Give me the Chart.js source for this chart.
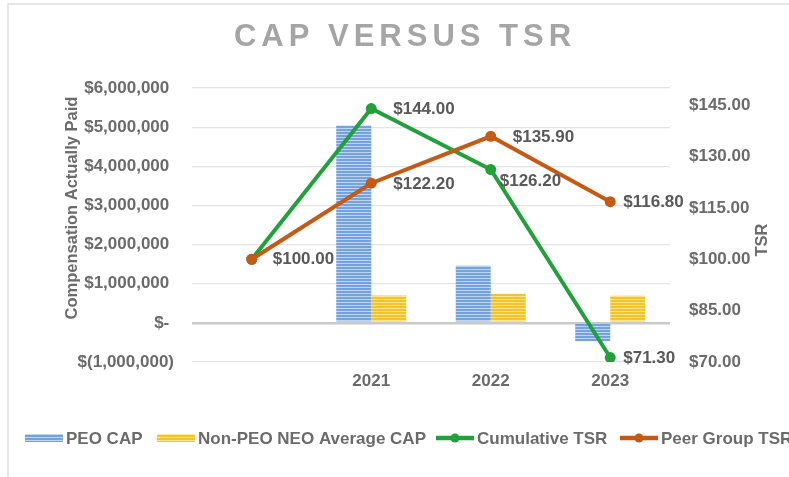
<!DOCTYPE html>
<html>
<head>
<meta charset="utf-8">
<script src="https://cdn.jsdelivr.net/npm/chart.js@4.4.0/dist/chart.umd.min.js"></script>
<style>
  html, body { margin: 0; padding: 0; background: #fff; }
  canvas { display: block; }
</style>
</head>
<body>
<canvas id="chart" width="789" height="477"></canvas>
<script>
// values
const years = ['', '2021', '2022', '2023'];
const peoCap = [null, 5040000, 1460000, -470000];
const neoAvgCap = [null, 700000, 745000, 690000];
const cumulativeTsr = [100.0, 144.0, 126.2, 71.3];
const peerGroupTsr = [100.0, 122.2, 135.9, 116.8];
const capTicks = [-1000000, 0, 1000000, 2000000, 3000000, 4000000, 5000000, 6000000];
const tsrTicks = [70, 85, 100, 115, 130, 145];

const FONT = "'Liberation Sans', Arial, sans-serif";
const TICK_COLOR = '#6b6b6b';
const LABEL_COLOR = '#595959';

Chart.defaults.font.family = FONT;
Chart.defaults.font.weight = 'bold';
Chart.defaults.font.size = 17;

// horizontal striped fill like the excel bars
function stripes(base, light) {
  const c = document.createElement('canvas');
  c.width = 4; c.height = 3;
  const g = c.getContext('2d');
  g.fillStyle = base; g.fillRect(0, 0, 4, 2);
  g.fillStyle = light; g.fillRect(0, 2, 4, 1);
  return g.createPattern(c, 'repeat');
}
const blueFill = stripes('#74a2e0', '#c0d5f2');
const yellowFill = stripes('#f6c22c', '#fde58c');

function capLabel(v) {
  if (v === 0) return '$- ';
  if (v < 0) return '$(' + Math.abs(v).toLocaleString('en-US') + ')';
  return '$' + v.toLocaleString('en-US') + ' ';
}
function tsrLabel(v) {
  return '$' + v.toFixed(2);
}

const framePlugin = {
  id: 'frame',
  beforeDraw(chart) {
    const ctx = chart.ctx;
    ctx.save();
    ctx.fillStyle = '#fff';
    ctx.fillRect(0, 0, chart.width, chart.height);
    ctx.strokeStyle = '#dedede';
    ctx.lineWidth = 1.5;
    ctx.beginPath();
    ctx.moveTo(8, chart.height);
    ctx.lineTo(8, 4);
    ctx.lineTo(chart.width, 4);
    ctx.stroke();
    ctx.restore();
  }
};

const pointLabelPlugin = {
  id: 'pointLabels',
  afterDatasetsDraw(chart) {
    const ctx = chart.ctx;
    ctx.save();
    ctx.font = 'bold 17px ' + FONT;
    ctx.fillStyle = LABEL_COLOR;
    ctx.textAlign = 'left';
    ctx.textBaseline = 'middle';
    chart.data.datasets.forEach((ds, i) => {
      if (!ds.labelOffsets) return;
      const meta = chart.getDatasetMeta(i);
      meta.data.forEach((pt, j) => {
        const off = ds.labelOffsets[j];
        if (!off) return;
        ctx.fillText(tsrLabel(ds.data[j]), pt.x + off[0], pt.y + off[1]);
      });
    });
    ctx.restore();
  }
};

const textPlugin = {
  id: 'texts',
  afterDraw(chart) {
    const ctx = chart.ctx;
    ctx.save();
    // title
    ctx.font = 'bold 31px ' + FONT;
    ctx.letterSpacing = '5px';
    ctx.fillStyle = '#a5a5a5';
    ctx.textAlign = 'center';
    ctx.textBaseline = 'middle';
    ctx.fillText('CAP VERSUS TSR', 405, 37);
    ctx.letterSpacing = '0px';

    // axis titles
    ctx.font = 'bold 16.5px ' + FONT;
    ctx.fillStyle = TICK_COLOR;
    ctx.save();
    ctx.translate(72, 208);
    ctx.rotate(-Math.PI / 2);
    ctx.fillText('Compensation Actually Paid', 0, 0);
    ctx.restore();
    ctx.save();
    ctx.translate(762, 240);
    ctx.rotate(-Math.PI / 2);
    ctx.fillText('TSR', 0, 0);
    ctx.restore();

    // legend, runs off the right edge like the reference
    const legendX = [25, 157, 436, 620];
    const ly = 438;
    ctx.font = 'bold 17px ' + FONT;
    ctx.textAlign = 'left';
    chart.data.datasets.forEach((ds, i) => {
      const x = legendX[i];
      if (ds.type === 'line') {
        ctx.strokeStyle = ds.borderColor;
        ctx.lineWidth = 4.5;
        ctx.beginPath();
        ctx.moveTo(x, ly);
        ctx.lineTo(x + 38, ly);
        ctx.stroke();
        ctx.fillStyle = ds.borderColor;
        ctx.beginPath();
        ctx.arc(x + 19, ly, 4.5, 0, Math.PI * 2);
        ctx.fill();
      } else {
        ctx.fillStyle = ds.backgroundColor;
        ctx.fillRect(x, ly - 4, 38, 8);
      }
      ctx.fillStyle = TICK_COLOR;
      ctx.fillText(ds.label, x + 41, ly + 1);
    });
    ctx.restore();
  }
};

new Chart(document.getElementById('chart'), {
  data: {
    labels: years,
    datasets: [
      {
        type: 'bar',
        label: 'PEO CAP',
        data: peoCap,
        backgroundColor: blueFill,
        yAxisID: 'y',
        order: 2
      },
      {
        type: 'bar',
        label: 'Non-PEO NEO Average CAP',
        data: neoAvgCap,
        backgroundColor: yellowFill,
        yAxisID: 'y',
        order: 2
      },
      {
        type: 'line',
        label: 'Cumulative TSR',
        data: cumulativeTsr,
        borderColor: '#22a03a',
        backgroundColor: '#22a03a',
        borderWidth: 4,
        pointRadius: 5.5,
        pointBackgroundColor: '#22a03a',
        pointBorderWidth: 0,
        tension: 0,
        yAxisID: 'y1',
        order: 1,
        labelOffsets: [null, [22, 1], [9, 12], [13, 1]]
      },
      {
        type: 'line',
        label: 'Peer Group TSR',
        data: peerGroupTsr,
        borderColor: '#c55a15',
        backgroundColor: '#c55a15',
        borderWidth: 4,
        pointRadius: 5.5,
        pointBackgroundColor: '#c55a15',
        pointBorderWidth: 0,
        tension: 0,
        yAxisID: 'y1',
        order: 0,
        labelOffsets: [[21, 0], [22, 1], [22, 1], [13, 1]]
      }
    ]
  },
  options: {
    responsive: false,
    animation: false,
    events: [],
    layout: { padding: { top: 88, left: 0, right: 0, bottom: 75 } },
    datasets: {
      bar: { categoryPercentage: 0.586, barPercentage: 1, borderWidth: 0 }
    },
    plugins: {
      legend: { display: false },
      title: { display: false },
      tooltip: { enabled: false }
    },
    scales: {
      x: {
        grid: { display: false, drawTicks: false },
        border: { display: false },
        ticks: { color: TICK_COLOR, padding: 9 },
        afterFit: (s) => { s.height = 40; }
      },
      y: {
        position: 'left',
        min: -1000000,
        max: 6000000,
        afterBuildTicks: (s) => { s.ticks = capTicks.map(v => ({ value: v })); },
        grid: {
          drawTicks: false,
          color: (c) => c.tick && c.tick.value === 0 ? '#c9c9c9' : '#e4e4e4',
          lineWidth: (c) => c.tick && c.tick.value === 0 ? 2.5 : 1.2
        },
        border: { display: false },
        ticks: { color: TICK_COLOR, padding: 18, callback: (v) => capLabel(v) },
        afterFit: (s) => { s.width = 192; }
      },
      y1: {
        position: 'right',
        min: 70,
        max: 150,
        afterBuildTicks: (s) => { s.ticks = tsrTicks.map(v => ({ value: v })); },
        grid: { display: false, drawTicks: false },
        border: { display: false },
        ticks: { color: TICK_COLOR, padding: 19, callback: (v) => tsrLabel(v) },
        afterFit: (s) => { s.width = 119; }
      }
    }
  },
  plugins: [framePlugin, pointLabelPlugin, textPlugin]
});
</script>
</body>
</html>
